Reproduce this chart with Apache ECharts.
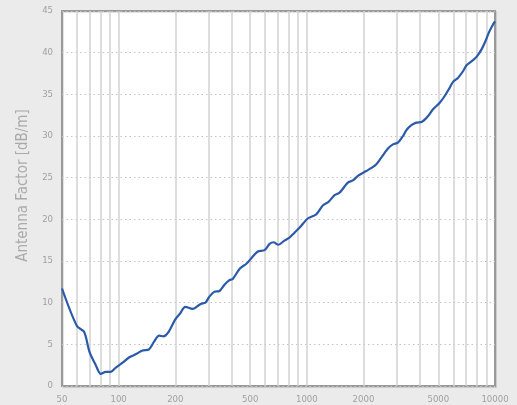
<!DOCTYPE html>
<html>
<head>
<meta charset="utf-8">
<script src="https://cdn.jsdelivr.net/npm/echarts@6/dist/echarts.min.js"></script>
<style>
html, body { margin: 0; padding: 0; background: #ebebeb; }
#chart { width: 517px; height: 405px; }
</style>
</head>
<body>
<div id="chart"></div>
<script>
// frequency in MHz
var freq = [50, 60, 65.5, 70, 75.6, 80.4, 85.5, 90.8, 96.6, 105, 114, 123, 134, 145, 154, 164, 173, 183, 200, 212,
    226, 247, 273, 289, 303, 322, 343, 365, 388, 404, 441, 479, 516, 549, 596, 634, 665, 706, 760, 808, 860, 914,
    1012, 1122, 1216, 1304, 1404, 1493, 1652, 1757, 1883, 2071, 2218, 2341, 2487, 2698, 2870, 3050, 3245, 3382,
    3595, 3822, 4094, 4374, 4684, 5086, 5406, 5749, 5987, 6369, 6775, 7059, 7502, 7978, 8482, 8905, 9274, 9776, 10000];
// antenna factor dB/m
var antennaFactor = [11.7, 7.2, 6.5, 4.1, 2.5, 1.45, 1.7, 1.7, 2.2, 2.8, 3.45, 3.8, 4.25, 4.4, 5.3, 6.05, 5.95, 6.4, 8.0, 8.7,
    9.5, 9.25, 9.85, 10.0, 10.7, 11.3, 11.4, 12.15, 12.7, 12.85, 14.1, 14.7, 15.55, 16.15, 16.3, 17.05, 17.25, 16.95, 17.45, 17.8, 18.4, 18.98,
    20.1, 20.6, 21.66, 22.1, 22.9, 23.2, 24.4, 24.67, 25.27, 25.8, 26.2, 26.6, 27.4, 28.5, 29.0, 29.2, 30.0, 30.7,
    31.3, 31.6, 31.7, 32.3, 33.2, 34.0, 34.8, 35.8, 36.5, 37.0, 37.8, 38.5, 38.95, 39.5, 40.4, 41.4, 42.4, 43.4, 43.75];
var xLabels = [50, 100, 200, 500, 1000, 2000, 5000, 10000];
var xGrid = [60, 70, 80, 90, 100, 200, 300, 400, 500, 600, 700, 800, 900,
    1000, 2000, 3000, 4000, 5000, 6000, 7000, 8000, 9000];

var points = [];
for (var i = 0; i < freq.length; i++) {
    points.push([freq[i], antennaFactor[i]]);
}

var labelFont = "'DejaVu Sans Condensed', sans-serif";

var option = {
    backgroundColor: '#ebebeb',
    animation: false,
    grid: {
        left: 62,
        right: 22,
        top: 11,
        bottom: 19,
        show: true,
        backgroundColor: '#fff',
        borderColor: '#999',
        borderWidth: 2,
        shadowColor: 'rgba(0,0,0,0.12)',
        shadowOffsetX: 1,
        shadowOffsetY: 1,
        shadowBlur: 1
    },
    xAxis: {
        type: 'log',
        min: 50,
        max: 10000,
        axisLine: {show: false},
        axisTick: {show: false, customValues: xGrid},
        axisLabel: {
            customValues: xLabels,
            formatter: function (v) { return String(v); },
            color: '#a0a0a0',
            fontSize: 9.5,
            fontFamily: labelFont,
            margin: 9
        },
        splitLine: {
            show: true,
            lineStyle: {color: '#d2d2d2', width: 1.5}
        }
    },
    yAxis: {
        type: 'value',
        min: 0,
        max: 45,
        interval: 5,
        name: 'Antenna Factor [dB/m]',
        nameLocation: 'middle',
        nameGap: 31,
        nameTextStyle: {color: '#aaaaaa', fontSize: 15, fontFamily: labelFont, padding: [0, 0, 0, 26]},
        axisLine: {show: false},
        axisTick: {show: false},
        axisLabel: {color: '#a0a0a0', fontSize: 9.5, fontFamily: labelFont, margin: 9},
        splitLine: {
            show: true,
            lineStyle: {color: '#c4c4c4', type: [1.5, 3], width: 1}
        }
    },
    series: [
        {
            name: 'Antenna Factor',
            type: 'line',
            data: points,
            showSymbol: false,
            smooth: 0.3,
            lineStyle: {color: '#2b5aa8', width: 2.2}
        }
    ]
};
var chart = echarts.init(document.getElementById('chart'));
chart.setOption(option);
</script>
</body>
</html>
